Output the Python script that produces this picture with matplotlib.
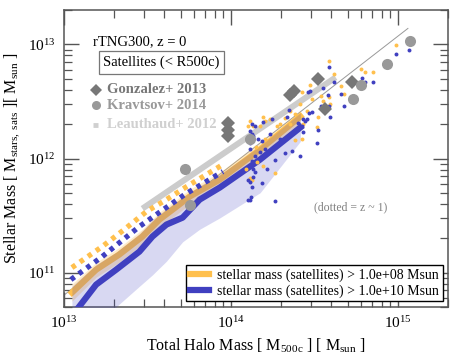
import matplotlib

matplotlib.use("Agg")

import matplotlib.pyplot as plt
import numpy as np
from matplotlib.ticker import LogLocator, NullFormatter

plt.rcParams["font.family"] = ["Liberation Serif", "DejaVu Serif"]
plt.rcParams["mathtext.fontset"] = "custom"
plt.rcParams["mathtext.rm"] = "Liberation Serif"
plt.rcParams["mathtext.it"] = "Liberation Serif:italic"

ORANGE = "#ffc04d"
BLUE = "#4040c0"

# --- z = 0 medians (log10 values) ---
orange_logm = [13.048, 13.193, 13.331, 13.470, 13.572, 13.675, 13.753, 13.934, 14.175, 14.416]
orange_med = [10.825, 11.026, 11.158, 11.316, 11.465, 11.579, 11.667, 11.816, 12.079, 12.368]
orange_lo = [10.75, 10.96, 11.09, 11.25, 11.40, 11.51, 11.60, 11.75, 12.01, 12.31]
orange_hi = [10.90, 11.09, 11.22, 11.38, 11.53, 11.64, 11.73, 11.88, 12.14, 12.42]

blue_logm = [13.048, 13.193, 13.313, 13.452, 13.530, 13.614, 13.711, 13.813, 13.934, 14.175, 14.416]
blue_med = [10.62, 10.895, 11.026, 11.184, 11.316, 11.421, 11.482, 11.640, 11.746, 11.991, 12.272]
blue_lo = [10.20, 10.45, 10.70, 10.88, 10.98, 11.10, 11.27, 11.38, 11.48, 11.70, 12.15]
blue_hi = [10.88, 11.07, 11.18, 11.34, 11.46, 11.56, 11.66, 11.76, 11.86, 12.11, 12.40]

# --- z ~ 1 medians (dotted) ---
orange_z1_logm = [13.048, 13.229, 13.361, 13.494, 13.614, 13.735, 13.952]
orange_z1_med = [11.044, 11.228, 11.377, 11.535, 11.640, 11.754, 11.947]
blue_z1_logm = [13.042, 13.229, 13.452, 13.723, 13.952]
blue_z1_med = [10.939, 11.140, 11.404, 11.684, 11.886]

# --- individual halos ---
orange_pts_logm = [14.590, 14.620, 14.657, 14.777, 14.801, 14.849, 14.988, 15.066, 14.542, 14.554,
                   14.590, 14.675, 14.596, 14.524, 14.434, 14.518, 14.476, 14.428, 14.386, 14.133,
                   14.205, 14.235, 14.325, 14.355, 14.458, 14.265, 14.193, 14.127, 14.386, 14.428,
                   14.175, 14.277, 14.295, 14.355, 14.205, 14.151, 14.114, 14.157, 14.114, 14.193,
                   14.102, 14.090, 14.416, 14.488]
orange_pts_logms = [12.851, 12.737, 12.632, 12.781, 12.754, 12.754, 12.991, 13.018, 12.544, 12.500,
                    12.535, 12.561, 12.474, 12.360, 12.298, 12.272, 12.640, 12.579, 12.386, 12.281,
                    12.325, 12.342, 12.351, 12.298, 12.412, 11.877, 11.930, 11.816, 12.158, 12.167,
                    12.281, 12.281, 12.298, 12.412, 12.167, 12.105, 11.833, 11.965, 12.325, 12.368,
                    12.281, 11.904, 12.474, 12.518]

blue_pts_logm = [14.590, 14.620, 14.554, 14.476, 14.657, 14.783, 14.801, 14.849, 14.988, 15.066,
                 14.542, 14.590, 14.675, 14.596, 14.470, 14.458, 14.446, 14.428, 14.434, 14.524,
                 14.464, 14.349, 14.337, 14.434, 14.488, 14.404, 14.193, 14.247, 14.127, 14.584,
                 14.518, 14.416, 14.367, 14.325, 14.265, 14.217, 14.145, 14.133, 14.187, 14.127,
                 14.114, 14.102, 14.265, 14.114, 14.127, 14.145, 14.114, 14.133, 14.163, 14.187,
                 14.114, 14.114, 14.175, 14.145, 14.127, 14.133, 14.102, 14.120, 14.235, 14.295,
                 14.355, 14.386, 14.205, 14.283]
blue_pts_logms = [12.798, 12.667, 12.614, 12.588, 12.561, 12.702, 12.667, 12.667, 12.912, 12.947,
                  12.456, 12.456, 12.456, 12.368, 12.395, 12.342, 12.325, 12.281, 12.228, 12.246,
                  12.579, 12.421, 12.360, 12.342, 12.404, 12.307, 12.316, 12.342, 12.211, 12.553,
                  12.140, 12.018, 12.070, 12.044, 11.991, 11.904, 11.886, 11.842, 11.789, 11.746,
                  11.640, 11.640, 11.632, 11.798, 12.298, 12.281, 12.237, 12.193, 12.167, 12.149,
                  12.140, 12.079, 12.061, 12.018, 11.974, 11.904, 11.816, 11.667, 12.211, 12.167,
                  12.211, 12.254, 12.079, 12.123]

# --- observations ---
gonzalez_logm = [13.982, 13.982, 13.982, 14.355, 14.380, 14.524, 14.566, 14.723]
gonzalez_logms = [12.307, 12.254, 12.193, 12.553, 12.588, 12.693, 12.430, 12.667]
kravtsov_logm = [13.723, 13.753, 14.114, 14.934, 14.777, 14.729, 15.072]
kravtsov_logms = [11.904, 11.596, 12.167, 12.825, 12.640, 12.518, 13.026]
leauthaud_logm = [13.470, 14.627]
leauthaud_logms = [11.561, 12.711]
ref_logm = [12.988, 15.060]
ref_logms = [10.789, 13.140]

legend_labels = ["stellar mass (satellites) > 1.0e+08 Msun",
                 "stellar mass (satellites) > 1.0e+10 Msun"]


def p(v):
    return 10 ** np.asarray(v, dtype=float)


fig = plt.figure(figsize=(4.63, 3.58), dpi=100)
ax = fig.add_axes([0.138, 0.1425, 0.830, 0.8295])
ax.set_xscale("log")
ax.set_yscale("log")

ax.plot(p(ref_logm), p(ref_logms), color="#999999", lw=0.7, zorder=1)
ax.plot(p(leauthaud_logm), p(leauthaud_logms), color="#cccccc", lw=4.3,
        solid_capstyle="butt", zorder=2)

ax.fill_between(p(orange_logm), p(orange_lo), p(orange_hi), color=ORANGE, alpha=0.3,
                lw=0, zorder=3)
ax.plot(p(orange_logm), p(orange_med), color=ORANGE, lw=4.5, zorder=4,
        label=legend_labels[0])
ax.fill_between(p(blue_logm), p(blue_lo), p(blue_hi), color=BLUE, alpha=0.2,
                lw=0, zorder=5)
ax.plot(p(blue_logm), p(blue_med), color=BLUE, lw=4.5, zorder=6, label=legend_labels[1])

ax.plot(p(orange_z1_logm), p(orange_z1_med), color=ORANGE, lw=3.8, dashes=(0.85, 1.0), zorder=6)
ax.plot(p(blue_z1_logm), p(blue_z1_med), color=BLUE, lw=3.8, dashes=(0.85, 1.0), zorder=6)

ax.scatter(p(orange_pts_logm), p(orange_pts_logms), s=8, color=ORANGE, lw=0, zorder=7)
ax.scatter(p(blue_pts_logm), p(blue_pts_logms), s=8, color=BLUE, lw=0, zorder=8)

ax.plot(p(gonzalez_logm), p(gonzalez_logms), "D", color="#777777", ms=7, mew=0, zorder=9)
ax.plot(p(kravtsov_logm), p(kravtsov_logms), "o", color="#999999", ms=8, mew=0, zorder=9)

ax.set_xlim(1e13, 2e15)
ax.set_ylim(5e10, 2e13)

for axis in (ax.xaxis, ax.yaxis):
    axis.set_minor_locator(LogLocator(base=10, subs=np.arange(2, 10)))
    axis.set_minor_formatter(NullFormatter())
ax.tick_params(which="both", direction="in", top=True, right=True, color="#555555",
               labelsize=11, pad=6)
ax.tick_params(which="major", length=11, width=1.0)
ax.tick_params(which="minor", length=5.5, width=0.9)
for s in ax.spines.values():
    s.set_color("#555555")
    s.set_linewidth(1.1)

ax.set_xlabel(r"Total Halo Mass [ M$_{\rm 500c}$ ] [ M$_{\rm sun}$ ]", fontsize=11.5)
ax.set_ylabel(r"Stellar Mass [ M$_{\rm stars,\ sats}$ ][ M$_{\rm sun}$ ]", fontsize=11.5)

ax.text(0.0755, 0.892, "rTNG300, z = 0", transform=ax.transAxes, fontsize=10.5, va="center")
ax.text(0.253, 0.823, "Satellites (< R500c)", transform=ax.transAxes, fontsize=10.5,
        va="center", ha="center",
        bbox=dict(boxstyle="square,pad=0.3", fc="white", ec="#777777", lw=0.9))

ax.plot([0.083], [0.731], "D", color="#777777", ms=6, mew=0, transform=ax.transAxes)
ax.text(0.112, 0.731, "Gonzalez+ 2013", transform=ax.transAxes, fontsize=10.5,
        color="#777777", fontweight="bold", va="center")
ax.plot([0.083], [0.680], "o", color="#999999", ms=6.5, mew=0, transform=ax.transAxes)
ax.text(0.112, 0.680, "Kravtsov+ 2014", transform=ax.transAxes, fontsize=10.5,
        color="#999999", fontweight="bold", va="center")
ax.plot([0.076, 0.090], [0.613, 0.613], color="#d0d0d0", lw=3.5, transform=ax.transAxes,
        solid_capstyle="butt")
ax.text(0.112, 0.613, "Leauthaud+ 2012", transform=ax.transAxes, fontsize=10.5,
        color="#d0d0d0", fontweight="bold", va="center")

ax.text(0.747, 0.337, "(dotted = z ~ 1)", transform=ax.transAxes, fontsize=8.5,
        color="#808080", ha="center", va="center")

leg = ax.legend(loc="lower right", fontsize=10, frameon=True, fancybox=False,
                framealpha=1, edgecolor="black", borderaxespad=0.4, handlelength=1.4,
                handletextpad=0.6, borderpad=0.25, labelspacing=0.2)
leg.get_frame().set_linewidth(1.0)
for line in leg.get_lines():
    line.set_linewidth(4.5)
leg.set_zorder(20)

fig.savefig("out.png", dpi=100)
